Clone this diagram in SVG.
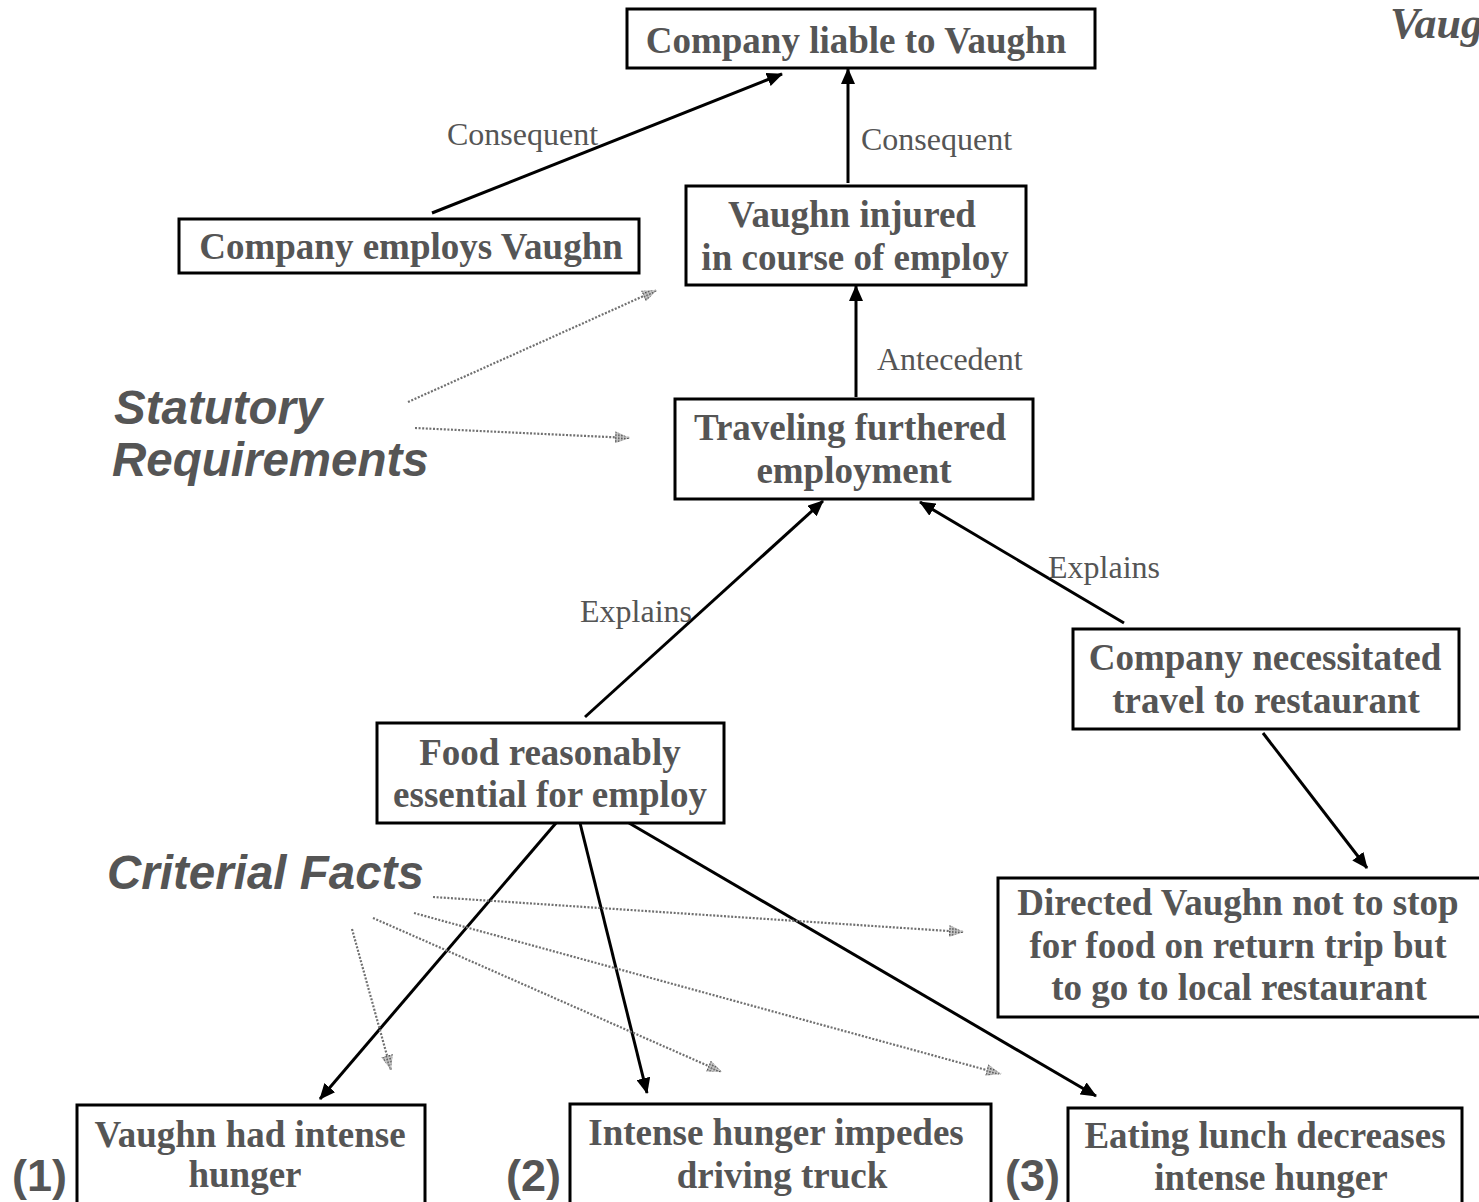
<svg xmlns="http://www.w3.org/2000/svg" width="1479" height="1202" viewBox="0 0 1479 1202">
  <style>
    .box { fill: #ffffff; stroke: #000000; stroke-width: 3; }
    .nt { font-family: "Liberation Serif", "Times New Roman", serif; font-weight: bold; font-size: 37px; fill: #555555; text-anchor: middle; }
    .lbl { font-family: "Liberation Serif", "Times New Roman", serif; font-size: 32px; fill: #555555; }
    .head { font-family: "Liberation Sans", Arial, sans-serif; font-weight: bold; font-style: italic; font-size: 47.5px; fill: #555555; }
    .title { font-family: "Liberation Serif", "Times New Roman", serif; font-weight: bold; font-style: italic; font-size: 44px; fill: #555555; }
    .num { font-family: "Liberation Sans", Arial, sans-serif; font-weight: bold; font-size: 45px; fill: #555555; }
    .link { stroke: #000000; stroke-width: 3; fill: none; marker-end: url(#solidHead); }
    .dot { stroke: #707070; stroke-width: 2.2; stroke-dasharray: 2 1.6; fill: none; marker-end: url(#dotHead); }
  </style>
  <defs>
    <marker id="solidHead" viewBox="0 0 16 14" refX="15" refY="7" markerWidth="16" markerHeight="14" markerUnits="userSpaceOnUse" orient="auto">
      <path d="M0,0 L16,7 L0,14 Z" fill="#000000"/>
    </marker>
    <pattern id="stipple" width="3" height="3" patternUnits="userSpaceOnUse">
      <rect width="3" height="3" fill="#c8c8c8"/>
      <rect width="1.6" height="1.6" fill="#4a4a4a"/>
    </pattern>
    <marker id="dotHead" viewBox="0 0 15 12" refX="15" refY="6" markerWidth="15" markerHeight="12" markerUnits="userSpaceOnUse" orient="auto">
      <path d="M0,0 L15,6 L0,12 Z" fill="url(#stipple)"/>
    </marker>
  </defs>

  <rect width="1479" height="1202" fill="#ffffff"/>

  <!-- side titles -->
  <text class="head" x="114" y="424">Statutory</text>
  <text class="head" x="112" y="476">Requirements</text>
  <text class="head" x="107" y="889">Criterial Facts</text>
  <text class="title" x="1390" y="38">Vaughn</text>

  <!-- connectors -->
  <g id="connectors">
    <line class="link" x1="432" y1="213" x2="782" y2="74"/>
    <line class="link" x1="848" y1="183" x2="848" y2="69"/>
    <line class="link" x1="856" y1="397" x2="856" y2="286"/>
    <line class="link" x1="585" y1="717" x2="823" y2="501"/>
    <line class="link" x1="1124" y1="623" x2="920" y2="502"/>
    <line class="link" x1="1263" y1="733" x2="1367" y2="868"/>
    <line class="link" x1="556" y1="823" x2="320" y2="1099"/>
    <line class="link" x1="580" y1="823" x2="647" y2="1093"/>
    <line class="link" x1="629" y1="823" x2="1096" y2="1096"/>

    <line class="dot" x1="408" y1="402" x2="657" y2="290"/>
    <line class="dot" x1="415" y1="428" x2="630" y2="438"/>
    <line class="dot" x1="433" y1="897" x2="964" y2="932"/>
    <line class="dot" x1="414" y1="913" x2="1001" y2="1074"/>
    <line class="dot" x1="373" y1="918" x2="722" y2="1072"/>
    <line class="dot" x1="352" y1="929" x2="391" y2="1070"/>

    <text class="lbl" x="447" y="145">Consequent</text>
    <text class="lbl" x="861" y="150">Consequent</text>
    <text class="lbl" x="877" y="370">Antecedent</text>
    <text class="lbl" x="580" y="622">Explains</text>
    <text class="lbl" x="1048" y="578">Explains</text>
  </g>

  <!-- nodes -->
  <g id="liable">
    <rect class="box" x="627" y="9" width="468" height="59"/>
    <text class="nt" x="856" y="53">Company liable to Vaughn</text>
  </g>
  <g id="employs">
    <rect class="box" x="179" y="219" width="460" height="54"/>
    <text class="nt" x="411" y="259">Company employs Vaughn</text>
  </g>
  <g id="injured">
    <rect class="box" x="686" y="186" width="340" height="99"/>
    <text class="nt" x="852" y="227">Vaughn injured</text>
    <text class="nt" x="855" y="270">in course of employ</text>
  </g>
  <g id="traveling">
    <rect class="box" x="675" y="399" width="358" height="100"/>
    <text class="nt" x="850" y="440">Traveling furthered</text>
    <text class="nt" x="854" y="483">employment</text>
  </g>
  <g id="necessitated">
    <rect class="box" x="1073" y="629" width="386" height="100"/>
    <text class="nt" x="1265" y="670">Company necessitated</text>
    <text class="nt" x="1266" y="713">travel to restaurant</text>
  </g>
  <g id="food">
    <rect class="box" x="377" y="723" width="347" height="100"/>
    <text class="nt" x="550" y="765">Food reasonably</text>
    <text class="nt" x="550" y="807">essential for employ</text>
  </g>
  <g id="directed">
    <rect class="box" x="998" y="878" width="490" height="139"/>
    <text class="nt" x="1238" y="915">Directed Vaughn not to stop</text>
    <text class="nt" x="1238" y="958">for food on return trip but</text>
    <text class="nt" x="1239" y="1000">to go to local restaurant</text>
  </g>
  <g id="fact1">
    <rect class="box" x="77" y="1105" width="348" height="110"/>
    <text class="nt" x="250" y="1147">Vaughn had intense</text>
    <text class="nt" x="245" y="1187">hunger</text>
    <text class="num" x="12" y="1191">(1)</text>
  </g>
  <g id="fact2">
    <rect class="box" x="570" y="1104" width="421" height="110"/>
    <text class="nt" x="776" y="1145">Intense hunger impedes</text>
    <text class="nt" x="782" y="1188">driving truck</text>
    <text class="num" x="506" y="1191">(2)</text>
  </g>
  <g id="fact3">
    <rect class="box" x="1068" y="1108" width="394" height="110"/>
    <text class="nt" x="1265" y="1148">Eating lunch decreases</text>
    <text class="nt" x="1271" y="1190">intense hunger</text>
    <text class="num" x="1005" y="1191">(3)</text>
  </g>
</svg>
